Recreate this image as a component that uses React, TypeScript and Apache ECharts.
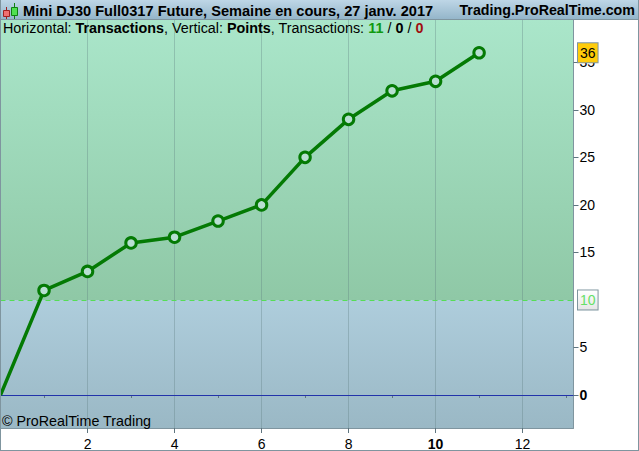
import React, { useEffect, useRef } from "react";
import * as echarts from "echarts";

const xValues = [0, 1, 2, 3, 4, 5, 6, 7, 8, 9, 10, 11];
const yValues = [0, 11, 13, 16, 16.6, 18.3, 20, 25, 29, 32, 33, 36];
const xMajorTicks = [2, 4, 6, 8, 10, 12];
const xMinorTicks = [1, 3, 5, 7, 9, 11, 13];
const yTicks = [0, 5, 15, 20, 25, 30, 35];
const titleLeft = "Mini DJ30 Full0317 Future, Semaine en cours, 27 janv. 2017";
const titleRight = "Trading.ProRealTime.com";
const copyright = "© ProRealTime Trading";
const lastValue = 36;
const thresholdValue = 10;

const FONT = "Liberation Sans";
const XMAX = 13.17;
const grad = (a: string, b: string) => ({
  type: "linear", x: 0, y: 0, x2: 0, y2: 1,
  colorStops: [{ offset: 0, color: a }, { offset: 1, color: b }],
});
const tagLabel = (bg: any, color: string) => ({
  show: true, position: "right" as const, distance: 4, fontFamily: FONT, fontSize: 14, color,
  backgroundColor: bg, borderColor: "#7f959f", borderWidth: 1, padding: [3, 2, 2, 2],
});

export default function App() {
  const ref = useRef<HTMLDivElement>(null);
  useEffect(() => {
    document.body.style.margin = "0";
    const chart = echarts.init(ref.current!, null, { renderer: "svg" });
    chart.setOption({
      animation: false,
      backgroundColor: "#ffffff",
      textStyle: { fontFamily: FONT },
      grid: { left: 0.5, right: 65.5, top: 20, height: 408.5, containLabel: false },
      xAxis: [
        {
          type: "value", min: 0, max: XMAX, z: 2,
          axisLine: { show: true, onZero: false, lineStyle: { color: "#7f959f", width: 1 } },
          axisTick: { show: true, length: 5, customValues: xMajorTicks, lineStyle: { color: "#5f757f", width: 1 } },
          axisLabel: {
            customValues: xMajorTicks, color: "#000", fontSize: 14, fontFamily: FONT, margin: 9,
            formatter: (v: number) => (v === 10 ? `{b|${v}}` : `${v}`),
            rich: { b: { fontWeight: "bold", fontSize: 14, fontFamily: FONT, color: "#000" } },
          },
          splitLine: { show: true, lineStyle: { color: "rgba(90,120,125,0.32)", width: 1 } },
        },
        {
          type: "value", min: 0, max: XMAX, position: "bottom", z: 2,
          axisLine: { show: false },
          axisTick: { show: true, length: 3, customValues: xMinorTicks, lineStyle: { color: "#5f757f", width: 1 } },
          axisLabel: { show: false },
          splitLine: { show: false },
        },
      ],
      yAxis: {
        type: "value", min: -3.47, max: 39.45, position: "right", z: 2,
        axisLine: { show: true, onZero: false, lineStyle: { color: "#7f959f", width: 1 } },
        axisTick: { show: true, length: 5, customValues: yTicks, lineStyle: { color: "#5f757f", width: 1 } },
        axisLabel: {
          customValues: yTicks, color: "#000", fontSize: 14, fontFamily: FONT, margin: 6,
          formatter: (v: number) => (v === 0 ? `{b|${v}}` : `${v}`),
          rich: { b: { fontWeight: "bold", fontSize: 14, fontFamily: FONT, color: "#000" } },
        },
        splitLine: { show: false },
      },
      series: [
        {
          type: "line",
          data: xValues.map((x, i) => (i === 0 ? { value: [x, yValues[i]], symbol: "none" } : [x, yValues[i]])),
          symbol: "circle",
          symbolSize: 10.5,
          clip: false,
          z: 5,
          lineStyle: { color: "#047a04", width: 3.5 },
          itemStyle: { color: "#b8dfd2", borderColor: "#047a04", borderWidth: 3 },
          markArea: {
            silent: true,
            z: 0,
            data: [
              [{ xAxis: 0, yAxis: thresholdValue, itemStyle: { color: grad("#aae6ca", "#8fc8a6"), opacity: 1 } }, { xAxis: XMAX, yAxis: 39.45 }],
              [{ xAxis: 0, yAxis: -3.47, itemStyle: { color: grad("#aecddc", "#9ab8c5"), opacity: 1 } }, { xAxis: XMAX, yAxis: thresholdValue }],
            ],
          },
          markLine: {
            silent: true, symbol: "none", label: { show: false },
            data: [
              { yAxis: thresholdValue, lineStyle: { color: "#55dd55", type: [5, 4], width: 1 } },
              { yAxis: 0, lineStyle: { color: "#2233aa", type: "solid", width: 1 } },
            ],
          },
          markPoint: {
            silent: true, symbol: "circle", symbolSize: 1, z: 10,
            itemStyle: { color: "rgba(0,0,0,0)", borderWidth: 0 },
            data: [
              { coord: [XMAX, lastValue], value: lastValue, label: tagLabel("#ffcc0a", "#000") },
              { coord: [XMAX, thresholdValue], value: thresholdValue, label: tagLabel(grad("#ffffff", "#e6e6e6"), "#66e066") },
            ],
          },
        },
      ],
      graphic: [
        { type: "rect", z: 20, shape: { x: 0, y: 0, width: 639, height: 20 }, style: { fill: grad("#bed6e6", "#92b4c8") } },
        { type: "line", z: 21, shape: { x1: 0, y1: 19.5, x2: 639, y2: 19.5 }, style: { stroke: "#7f959f", lineWidth: 1 } },
        { type: "line", z: 21, shape: { x1: 0.5, y1: 0, x2: 0.5, y2: 451 }, style: { stroke: "#7f959f", lineWidth: 1 } },
        { type: "line", z: 21, shape: { x1: 638.5, y1: 0, x2: 638.5, y2: 451 }, style: { stroke: "#7f959f", lineWidth: 1 } },
        { type: "line", z: 21, shape: { x1: 0, y1: 450.5, x2: 639, y2: 450.5 }, style: { stroke: "#7f959f", lineWidth: 1 } },
        { type: "line", z: 22, shape: { x1: 6.5, y1: 7, x2: 6.5, y2: 19 }, style: { stroke: "#a02020", lineWidth: 1 } },
        { type: "rect", z: 22, shape: { x: 3.5, y: 10.5, width: 6, height: 6 }, style: { fill: "#f07070", stroke: "#a02020", lineWidth: 1 } },
        { type: "line", z: 22, shape: { x1: 14.5, y1: 3, x2: 14.5, y2: 19 }, style: { stroke: "#108010", lineWidth: 1 } },
        { type: "rect", z: 22, shape: { x: 11.5, y: 7.5, width: 6, height: 8 }, style: { fill: "#50e050", stroke: "#108010", lineWidth: 1 } },
        { type: "text", z: 22, x: 23, y: 3, style: { text: titleLeft, fontFamily: FONT, fontWeight: "bold", fontSize: 14.6, fill: "#000" } },
        { type: "text", z: 22, x: 635, y: 3, style: { text: titleRight, fontFamily: FONT, fontWeight: "bold", fontSize: 14.25, fill: "#000", align: "right" } },
        {
          type: "text", z: 22, x: 3, y: 21,
          style: {
            text: "Horizontal: {b|Transactions}, Vertical: {b|Points}, Transactions: {g|11} / {b|0} / {r|0}",
            fontFamily: FONT, fontSize: 14.35, fill: "#000",
            rich: {
              b: { fontFamily: FONT, fontSize: 14.35, fontWeight: "bold", fill: "#000" },
              g: { fontFamily: FONT, fontSize: 14.35, fontWeight: "bold", fill: "#109a10" },
              r: { fontFamily: FONT, fontSize: 14.35, fontWeight: "bold", fill: "#a01010" },
            },
          },
        },
        { type: "text", z: 22, x: 2, y: 414, style: { text: copyright, fontFamily: FONT, fontSize: 14.3, fill: "#000" } },
      ],
    });
    return () => chart.dispose();
  }, []);
  return <div ref={ref} style={{ width: 639, height: 451 }} />;
}
